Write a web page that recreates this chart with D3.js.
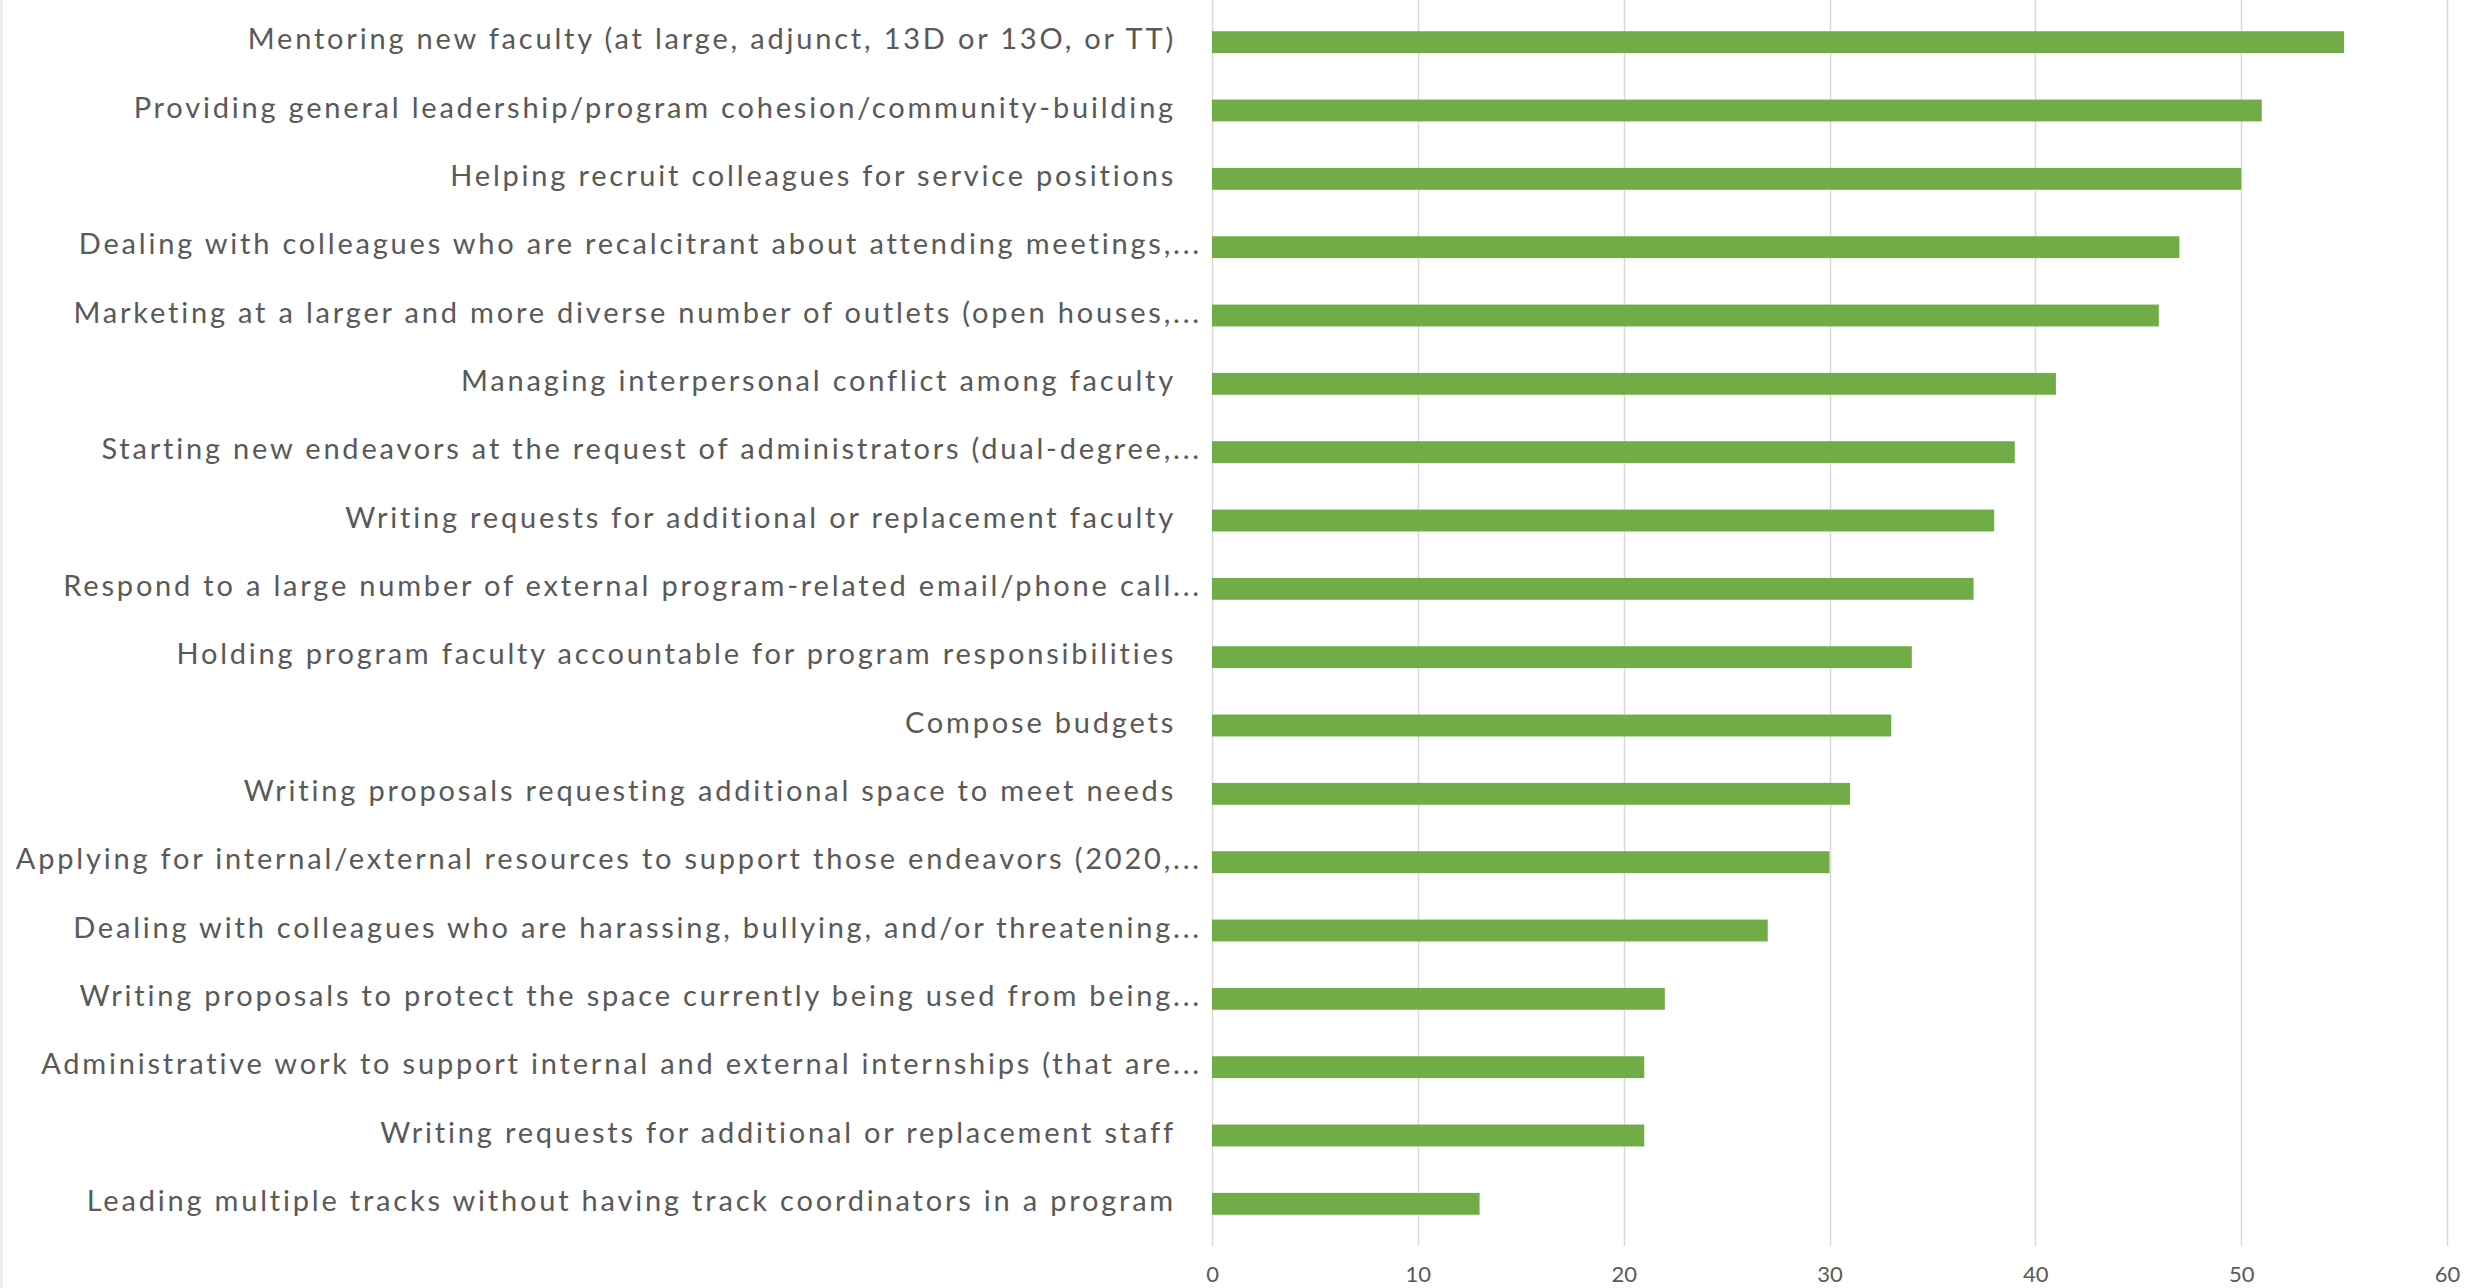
<!DOCTYPE html>
<html>
<head>
<meta charset="utf-8">
<script src="https://cdn.jsdelivr.net/npm/d3@7"></script>
<style>
  html, body { margin: 0; padding: 0; background: #ffffff; }
  svg { display: block; }
</style>
</head>
<body>
<svg id="chart" width="2471" height="1288"></svg>
<script>
// Service tasks, top to bottom
const categories = [
  "Mentoring new faculty (at large, adjunct, 13D or 13O, or TT)",
  "Providing general leadership/program cohesion/community-building",
  "Helping recruit colleagues for service positions",
  "Dealing with colleagues who are recalcitrant about attending meetings,...",
  "Marketing at a larger and more diverse number of outlets (open houses,...",
  "Managing interpersonal conflict among faculty",
  "Starting new endeavors at the request of administrators (dual-degree,...",
  "Writing requests for additional or replacement faculty",
  "Respond to a large number of external program-related email/phone call...",
  "Holding program faculty accountable for program responsibilities",
  "Compose budgets",
  "Writing proposals requesting additional space to meet needs",
  "Applying for internal/external resources to support those endeavors (2020,...",
  "Dealing with colleagues who are harassing, bullying, and/or threatening...",
  "Writing proposals to protect the space currently being used from being...",
  "Administrative work to support internal and external internships (that are...",
  "Writing requests for additional or replacement staff",
  "Leading multiple tracks without having track coordinators in a program"
];

// Number of responses per task
const counts = [55, 51, 50, 47, 46, 41, 39, 38, 37, 34, 33, 31, 30, 27, 22, 21, 21, 13];

// Value axis ticks
const xTicks = [0, 10, 20, 30, 40, 50, 60];

const svg = d3.select("#chart");
const width = 2471, height = 1288;

const plot = { left: 1212, right: 2447, top: 8, bottom: 1238 };

const x = d3.scaleLinear().domain([0, 60]).range([plot.left, plot.right]);
const y = d3.scaleBand().domain(categories).range([plot.top, plot.bottom]).paddingInner(0.68).paddingOuter(0.34);

const gridColor = "#d9d9d9";
const textColor = "#595959";
const barColor = "#70ad47";
const labelFont = "Lato, 'Open Sans', sans-serif";

// chart frame edge on the left
svg.append("line")
  .attr("x1", 1.5).attr("x2", 1.5).attr("y1", 0).attr("y2", height)
  .attr("stroke", "#e6e6e6").attr("stroke-width", 2);

// vertical gridlines
svg.append("g").selectAll("line")
  .data(xTicks)
  .join("line")
  .attr("x1", d => Math.round(x(d)) + 0.5)
  .attr("x2", d => Math.round(x(d)) + 0.5)
  .attr("y1", 0)
  .attr("y2", 1246)
  .attr("stroke", gridColor)
  .attr("stroke-width", 1.5);

// bars
svg.append("g").selectAll("rect")
  .data(categories.map((c, i) => ({ c, v: counts[i] })))
  .join("rect")
  .attr("x", x(0))
  .attr("y", d => y(d.c))
  .attr("width", d => x(d.v) - x(0))
  .attr("height", y.bandwidth())
  .attr("fill", barColor);

// category labels; truncated labels sit closer to the axis
const labelEnd = d => d.endsWith("...") ? plot.left - 10 : plot.left - 36;
const labels = svg.append("g").selectAll("text")
  .data(categories)
  .join("text")
  .attr("x", labelEnd)
  .attr("y", d => y(d) + y.bandwidth() / 2 - 3)
  .attr("dy", "0.35em")
  .attr("text-anchor", "end")
  .attr("fill", textColor)
  .attr("font-family", labelFont)
  .attr("font-size", 29)
  .text(d => d);

// widen the tracking so the longest label reaches the left margin
const leftMargin = 16;
let spacing = Infinity;
labels.each(function(d) {
  const avail = labelEnd(d) - leftMargin;
  const s = (avail - this.getComputedTextLength()) / d.length;
  spacing = Math.min(spacing, s);
});
labels.attr("letter-spacing", Math.max(0, spacing).toFixed(2));

// value axis labels
const xAxis = d3.axisBottom(x).tickValues(xTicks).tickSize(0).tickPadding(0);
const axisG = svg.append("g")
  .attr("transform", `translate(0, 1266)`)
  .call(xAxis);
axisG.select(".domain").remove();
axisG.selectAll("text")
  .attr("fill", textColor)
  .attr("font-family", labelFont)
  .attr("font-size", 22);
</script>
</body>
</html>
